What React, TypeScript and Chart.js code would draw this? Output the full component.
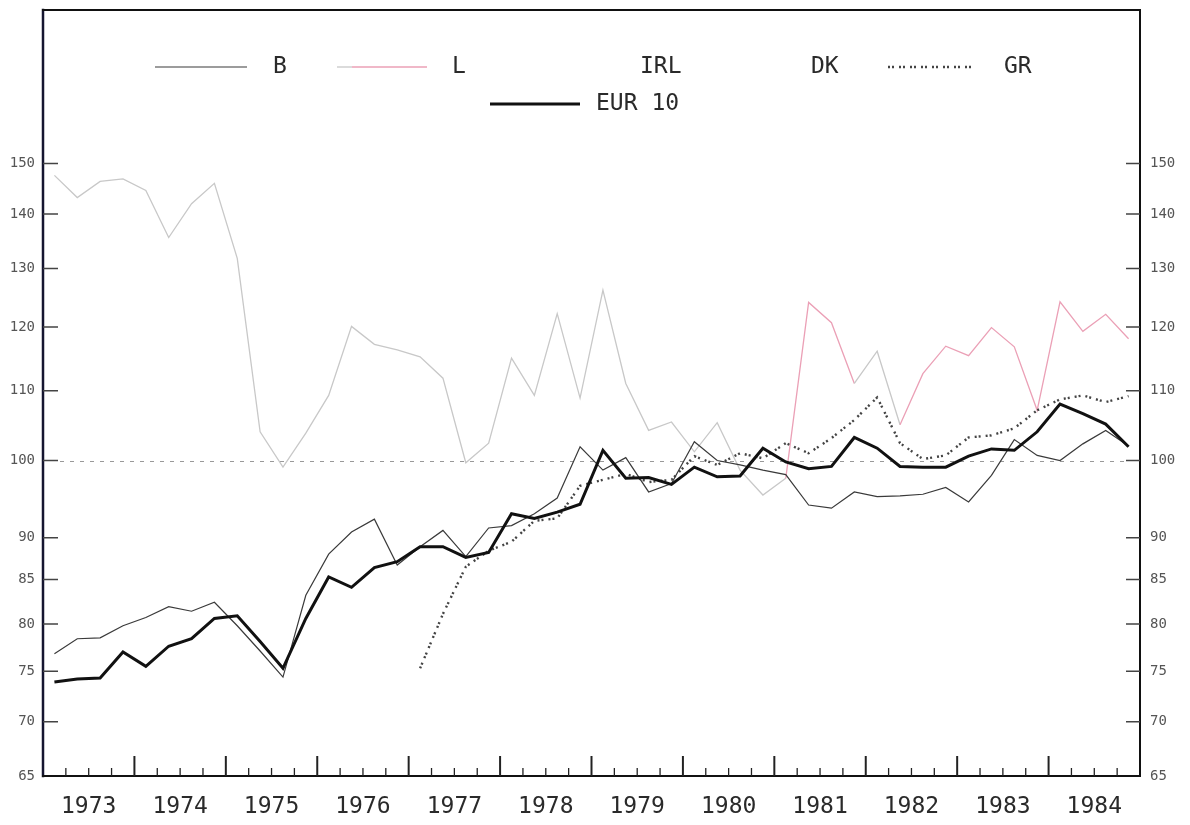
import React, { useEffect, useRef } from 'react';
import { Chart, registerables } from 'chart.js';

Chart.register(...registerables);

// ---- data ----
const years = [1973, 1974, 1975, 1976, 1977, 1978, 1979, 1980, 1981, 1982, 1983, 1984];
const yTickValues = [65, 70, 75, 80, 85, 90, 100, 110, 120, 130, 140, 150];

const seriesB = [
  76.8, 78.4, 78.5, 79.8, 80.7, 81.9, 81.4, 82.4, 79.8, 77.1, 74.4, 83.2,
  88.0, 90.7, 92.3, 86.7, 88.9, 90.9, 87.7, 91.2, 91.5, 93.0, 95.0, 101.9,
  98.7, 100.4, 95.8, 96.9, 102.6, 100.0, 99.4, 98.7, 98.1, 94.1, 93.7, 95.8,
  95.2, 95.3, 95.5, 96.4, 94.5, 98.0, 102.9, 100.7, 100.0, 102.3, 104.2, 102.0,
];

const seriesL = [
  147.6, 143.2, 146.4, 146.9, 144.6, 135.6, 142.0, 146.0, 131.8, 104.0, 99.1, 103.8,
  109.3, 120.1, 117.2, 116.3, 115.2, 111.9, 99.7, 102.4, 115.0, 109.3, 122.2, 108.9,
  126.2, 111.1, 104.2, 105.4, 101.2, 105.3, 98.7, 95.4, 97.6, 124.1, 120.7, 111.1,
  116.1, 105.0, 112.6, 116.9, 115.4, 119.9, 116.8, 107.1, 124.2, 119.3, 122.1, 118.1,
];

const seriesGR = [
  null, null, null, null, null, null, null, null, null, null, null, null,
  null, null, null, null, 75.3, 81.1, 86.5, 88.4, 89.5, 92.1, 92.4, 96.6,
  97.4, 98.2, 97.1, 97.4, 100.6, 99.4, 101.0, 100.3, 102.4, 101.0, 103.1, 105.7,
  109.0, 102.4, 100.2, 100.7, 103.2, 103.5, 104.5, 107.1, 108.7, 109.3, 108.3, 109.2,
];

const seriesEUR = [
  73.9, 74.2, 74.3, 77.0, 75.5, 77.6, 78.4, 80.6, 80.9, 78.1, 75.3, 80.6,
  85.3, 84.1, 86.4, 87.1, 88.9, 88.9, 87.6, 88.2, 93.0, 92.4, 93.2, 94.2,
  101.4, 97.6, 97.7, 96.8, 99.1, 97.8, 97.9, 101.7, 99.8, 98.9, 99.2, 103.2,
  101.7, 99.2, 99.1, 99.1, 100.6, 101.6, 101.4, 104.0, 108.0, 106.6, 105.1, 101.9,
];

// ---- styles ----
const MONO = "'DejaVu Sans Mono', monospace";
const GREY_L = '#c8c8c8';
const PINK_L = '#eba0b6';
const L_PINK_FROM = 32;
const L_GREY_SEGMENTS = [35, 36];
const Y_MAX = 185;
const GR_DASH = [2, 2, 2, 5];

const quarterX = (i: number) => years[0] + (i + 0.5) / 4;
const toPoints = (arr: (number | null)[]) => arr.map((v, i) => ({ x: quarterX(i), y: v }));

const decor = {
  id: 'decor',
  beforeDatasetsDraw(chart: any) {
    const { ctx, chartArea, scales } = chart;
    const y = Math.round(scales.y.getPixelForValue(100)) + 0.5;
    ctx.save();
    ctx.strokeStyle = '#999';
    ctx.lineWidth = 1;
    ctx.setLineDash([4, 6]);
    ctx.beginPath();
    ctx.moveTo(chartArea.left + 17, y);
    ctx.lineTo(chartArea.right - 12, y);
    ctx.stroke();
    ctx.restore();
  },
  afterDraw(chart: any) {
    const { ctx, chartArea, scales } = chart;
    const { left, right, top, bottom } = chartArea;
    ctx.save();
    // frame
    ctx.setLineDash([]);
    ctx.lineCap = 'square';
    ctx.strokeStyle = '#151530';
    ctx.lineWidth = 2.5;
    ctx.beginPath();
    ctx.moveTo(left, top);
    ctx.lineTo(left, bottom);
    ctx.stroke();
    ctx.strokeStyle = '#111';
    ctx.lineWidth = 2;
    ctx.beginPath();
    ctx.moveTo(left, top);
    ctx.lineTo(right, top);
    ctx.lineTo(right, bottom);
    ctx.lineTo(left, bottom);
    ctx.stroke();

    // y ticks (inward)
    ctx.strokeStyle = '#444';
    ctx.lineWidth = 1.5;
    ctx.lineCap = 'butt';
    yTickValues.forEach((v) => {
      if (v === yTickValues[0]) return;
      const py = scales.y.getPixelForValue(v);
      ctx.beginPath();
      ctx.moveTo(left, py);
      ctx.lineTo(left + 15, py);
      ctx.moveTo(right - 14, py);
      ctx.lineTo(right, py);
      ctx.stroke();
    });

    // x ticks (inward): quarter boundaries
    ctx.strokeStyle = '#222';
    const nQ = years.length * 4;
    for (let k = 1; k < nQ; k++) {
      const px = scales.x.getPixelForValue(years[0] + k / 4);
      const len = k % 4 === 0 ? 20 : 8;
      ctx.lineWidth = k % 4 === 0 ? 2 : 1.3;
      ctx.beginPath();
      ctx.moveTo(px, bottom);
      ctx.lineTo(px, bottom - len);
      ctx.stroke();
    }

    // legend
    const row1 = 67;
    const row2 = 104;
    ctx.font = `23px ${MONO}`;
    ctx.fillStyle = '#2a2a2a';
    ctx.textBaseline = 'middle';
    ctx.textAlign = 'left';
    const line = (x1: number, x2: number, yy: number, color: string, w: number, dash: number[] = []) => {
      ctx.strokeStyle = color;
      ctx.lineWidth = w;
      ctx.setLineDash(dash);
      ctx.beginPath();
      ctx.moveTo(x1, yy);
      ctx.lineTo(x2, yy);
      ctx.stroke();
      ctx.setLineDash([]);
    };
    line(155, 247, row1, '#3a3a3a', 1.2);
    ctx.fillText('B', 273, row1);
    line(337, 352, row1, GREY_L, 1.3);
    line(352, 427, row1, PINK_L, 1.3);
    ctx.fillText('L', 452, row1);
    ctx.fillText('IRL', 640, row1);
    ctx.fillText('DK', 811, row1);
    line(888, 972, row1, '#444', 2.4, GR_DASH);
    ctx.fillText('GR', 1004, row1);
    line(490, 580, row2, '#111', 3);
    ctx.fillText('EUR 10', 596, row2);
    ctx.restore();
  },
};

export default function App() {
  const canvasRef = useRef<HTMLCanvasElement | null>(null);

  useEffect(() => {
    const canvas = canvasRef.current;
    if (!canvas) return;
    const yAxisCommon = {
      type: 'logarithmic' as const,
      min: 65,
      max: Y_MAX,
      afterBuildTicks: (s: any) => {
        s.ticks = yTickValues.map((v) => ({ value: v }));
      },
      grid: { display: false, drawTicks: false },
      border: { display: false },
    };
    const chart = new Chart(canvas, {
      type: 'line',
      data: {
        datasets: [
          {
            label: 'EUR 10',
            data: toPoints(seriesEUR),
            borderColor: '#111',
            borderWidth: 3,
            pointRadius: 0,
            tension: 0,
          },
          {
            label: 'B',
            data: toPoints(seriesB),
            borderColor: '#3a3a3a',
            borderWidth: 1.2,
            pointRadius: 0,
            tension: 0,
          },
          {
            label: 'GR',
            data: toPoints(seriesGR),
            borderColor: '#444',
            borderWidth: 2.4,
            borderDash: GR_DASH,
            pointRadius: 0,
            tension: 0,
            spanGaps: false,
          },
          {
            label: 'L',
            data: toPoints(seriesL),
            borderColor: GREY_L,
            borderWidth: 1.3,
            pointRadius: 0,
            tension: 0,
            segment: {
              borderColor: (c: any) =>
                c.p0DataIndex >= L_PINK_FROM && !L_GREY_SEGMENTS.includes(c.p0DataIndex) ? PINK_L : GREY_L,
            },
          },
        ] as any,
      },
      options: {
        responsive: false,
        animation: false,
        events: [],
        layout: { padding: { top: 10, left: 0, right: 0, bottom: 0 } },
        plugins: { legend: { display: false }, tooltip: { enabled: false } },
        scales: {
          x: {
            type: 'linear',
            position: 'bottom',
            min: years[0],
            max: years[years.length - 1] + 1,
            afterBuildTicks: (s: any) => {
              s.ticks = years.map((y) => ({ value: y + 0.5 }));
            },
            afterFit: (s: any) => {
              s.height = 49;
              s.paddingLeft = 0;
              s.paddingRight = 0;
            },
            ticks: {
              callback: (v: any) => String(Math.floor(Number(v))),
              font: { family: MONO, size: 23 },
              color: '#2a2a2a',
              padding: 17,
              maxRotation: 0,
              autoSkip: false,
            },
            grid: { display: false, drawTicks: false },
            border: { display: false },
          },
          y: {
            ...yAxisCommon,
            position: 'left',
            afterFit: (s: any) => {
              s.width = 43;
              s.paddingTop = 0;
              s.paddingBottom = 0;
            },
            ticks: {
              callback: (v: any) => String(v),
              font: { family: MONO, size: 14 },
              color: '#555',
              padding: 8,
              autoSkip: false,
            },
          },
          y2: {
            ...yAxisCommon,
            position: 'right',
            afterFit: (s: any) => {
              s.width = 50;
              s.paddingTop = 0;
              s.paddingBottom = 0;
            },
            ticks: {
              callback: (v: any) => String(v),
              font: { family: MONO, size: 14 },
              color: '#555',
              padding: 10,
              autoSkip: false,
            },
          },
        } as any,
      },
      plugins: [decor],
    });
    return () => chart.destroy();
  }, []);

  return (
    <div style={{ position: 'fixed', left: 0, top: 0, width: 1190, height: 825, background: '#fff' }}>
      <canvas ref={canvasRef} width={1190} height={825} style={{ display: 'block' }} />
    </div>
  );
}
